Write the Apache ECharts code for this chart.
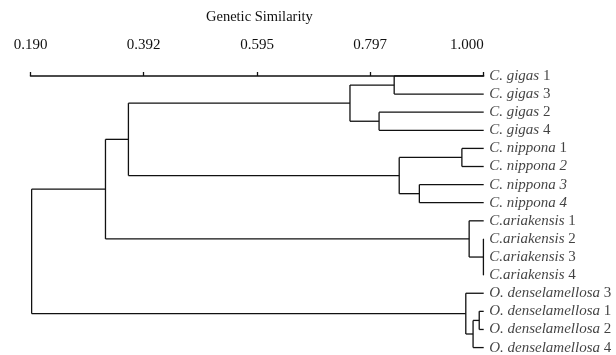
<!DOCTYPE html>
<html>
<head>
<meta charset="utf-8">
<script src="https://cdn.jsdelivr.net/npm/echarts@6/dist/echarts.min.js"></script>
<style>
  html, body { margin: 0; padding: 0; background: #fff; }
  #chart { width: 616px; height: 355px; }
</style>
</head>
<body>
<div id="chart"></div>
<script>
  // leaves, top to bottom: italic part and upright part of each label
  const leafItalic = [
    'C. gigas', 'C. gigas', 'C. gigas', 'C. gigas',
    'C. nippona', 'C. nippona 2', 'C. nippona 3', 'C. nippona 4',
    'C.ariakensis', 'C.ariakensis', 'C.ariakensis', 'C.ariakensis',
    'O. denselamellosa', 'O. denselamellosa', 'O. denselamellosa', 'O. denselamellosa'
  ];
  const leafPlain = ['1', '3', '2', '4', '1', '', '', '', '1', '2', '3', '4', '3', '1', '2', '4'];

  // merges: children (leaf index or node id 'nK') and similarity where they join
  const mergeChildren = [
    [0, 1], [2, 3], ['n0', 'n1'],
    [4, 5], [6, 7], ['n3', 'n4'],
    ['n2', 'n5'],
    [9, 10, 11], [8, 'n7'],
    ['n6', 'n8'],
    [13, 14], ['n10', 15], [12, 'n11'],
    ['n9', 'n12']
  ];
  const mergeSim = [0.840, 0.813, 0.761, 0.961, 0.885, 0.849, 0.365, 0.9995, 0.974, 0.324, 0.992, 0.981, 0.968, 0.192];

  const tickValues = [0.190, 0.392, 0.595, 0.797, 1.000];

  // build elbow segments [x1, y1, x2, y2] from the merges
  const nodes = {};
  const segments = [];
  const getNode = (c) => (typeof c === 'number' ? { x: 1.0, y: c } : nodes[c]);
  mergeChildren.forEach((kids, i) => {
    const sim = mergeSim[i];
    const pts = kids.map(getNode);
    const first = pts[0], last = pts[pts.length - 1];
    pts.forEach((p) => segments.push([p.x, p.y, sim, p.y]));
    segments.push([sim, first.y, sim, last.y]);
    nodes['n' + i] = { x: sim, y: (first.y + last.y) / 2 };
  });

  const leafData = leafItalic.map((t, i) => [1.0, i, t, leafPlain[i]]);

  const serif = 'Liberation Serif';
  const chart = echarts.init(document.getElementById('chart'));
  chart.setOption({
    animation: false,
    title: {
      text: 'Genetic Similarity',
      left: 201,
      top: 5,
      textStyle: { fontFamily: serif, fontSize: 14.5, fontWeight: 'normal', color: '#111' }
    },
    grid: { left: 30.5, right: 132.3, top: 63.3, bottom: 0, outerBoundsMode: 'none' },
    xAxis: {
      type: 'value',
      position: 'top',
      min: 0.19,
      max: 1.0,
      axisLine: { show: true, lineStyle: { color: '#111', width: 1.5 } },
      axisTick: { show: true, customValues: tickValues, length: 4, lineStyle: { color: '#111', width: 1.3 } },
      axisLabel: {
        customValues: tickValues,
        formatter: (v) => v.toFixed(3),
        fontFamily: serif,
        fontSize: 15,
        color: '#111',
        margin: 11,
        alignMaxLabel: 'right'
      },
      splitLine: { show: false }
    },
    yAxis: {
      type: 'value',
      inverse: true,
      min: -0.7,
      max: 15.41,
      show: false
    },
    series: [
      {
        type: 'custom',
        data: segments,
        encode: { x: [0, 2], y: [1, 3] },
        renderItem: (params, api) => {
          const p1 = api.coord([api.value(0), api.value(1)]);
          const p2 = api.coord([api.value(2), api.value(3)]);
          return {
            type: 'line',
            shape: { x1: p1[0], y1: p1[1], x2: p2[0], y2: p2[1] },
            style: { stroke: '#111', lineWidth: 1.3 }
          };
        }
      },
      {
        type: 'scatter',
        data: leafData,
        symbolSize: 1,
        itemStyle: { color: 'rgba(0,0,0,0)' },
        label: {
          show: true,
          position: 'right',
          distance: 5,
          formatter: (p) => '{i|' + p.data[2] + '}' + (p.data[3] ? '{n| ' + p.data[3] + '}' : ''),
          rich: {
            i: { fontFamily: serif, fontStyle: 'italic', fontSize: 15, color: '#111' },
            n: { fontFamily: serif, fontSize: 15, color: '#111' }
          }
        }
      }
    ]
  });
</script>
</body>
</html>
